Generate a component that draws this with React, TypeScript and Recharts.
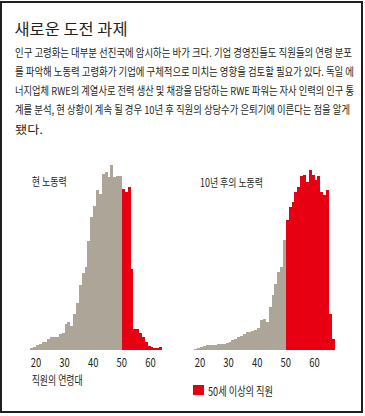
import { Bar, BarChart, Cell, XAxis, YAxis } from "recharts"

// ages 18..66, one bar per year of age
const ages = [
  18, 19, 20, 21, 22, 23, 24, 25, 26, 27, 28, 29, 30, 31, 32, 33, 34, 35, 36, 37, 38, 39, 40, 41, 42,
  43, 44, 45, 46, 47, 48, 49, 50, 51, 52, 53, 54, 55, 56, 57, 58, 59, 60, 61, 62, 63, 64, 65, 66,
]
const tickAges = [20, 30, 40, 50, 60]
const seniorAge = 50

// relative head count per age
const currentWorkforce = [
  4, 8, 13, 18, 22, 24, 33, 37, 37, 38, 47, 50, 77, 84, 72, 107, 140, 194, 229, 247, 327, 397, 432,
  479, 467, 527, 534, 517, 553, 517, 522, 522, 482, 472, 487, 242, 62, 62, 50, 37, 22, 12, 7, 5, 5, 9,
]
const workforceIn10Years = [
  3, 5, 8, 11, 13, 13, 14, 15, 17, 18, 18, 20, 24, 30, 33, 37, 42, 48, 52, 53, 55, 60, 66, 88, 92, 83,
  128, 163, 198, 233, 248, 328, 390, 428, 443, 473, 488, 520, 523, 503, 540, 523, 508, 520, 473, 463,
  478, 108, 31,
]

const bodyLines = [
  "인구 고령화는 대부분 선진국에 암시하는 바가 크다. 기업 경영진들도 직원들의 연령 분포",
  "를 파악해 노동력 고령화가 기업에 구체적으로 미치는 영향을 검토할 필요가 있다. 독일 에",
  "너지업체 RWE의 계열사로 전력 생산 및 채광을 담당하는 RWE 파워는 자사 인력의 인구 통",
  "계를 분석, 현 상황이 계속 될 경우 10년 후 직원의 상당수가 은퇴기에 이른다는 점을 알게",
  "됐다.",
]
const bodyWidths = [337, 339, 339, 335, 28]

const GRAY = "#ada598"
const RED = "#e60012"
const INK = "#231f20"
const FONT = "'Noto Sans CJK KR', 'Noto Sans', sans-serif"
const BAND = 2.86

function AgeTick(props: any) {
  const { x, payload } = props
  if (!tickAges.includes(Number(payload.value))) return null
  return (
    <text
      x={x - BAND / 2}
      y={226.5}
      textAnchor="middle"
      fontSize={12.5}
      fill={INK}
      fontFamily={FONT}
      textLength={10.5}
      lengthAdjust="spacingAndGlyphs"
    >
      {payload.value}
    </text>
  )
}

function AgeHistogram({ counts, left, plotLeft }: { counts: number[]; left: number; plotLeft: number }) {
  const data = counts.map((count, i) => ({ age: ages[i], count }))
  const plotWidth = counts.length * BAND
  return (
    <div style={{ position: "absolute", left, top: 140, shapeRendering: "crispEdges" }}>
      <BarChart
        width={180}
        height={240}
        data={data}
        barCategoryGap={0}
        barGap={0}
        margin={{ top: 9.5, left: plotLeft, right: 180 - plotLeft - plotWidth, bottom: 0 }}
      >
        <XAxis
          dataKey="age"
          interval={0}
          ticks={tickAges}
          axisLine={false}
          tickLine={false}
          height={30.5}
          tick={<AgeTick />}
        />
        <YAxis hide domain={[0, 600]} />
        <Bar dataKey="count" isAnimationActive={false}>
          {data.map((d) => (
            <Cell key={d.age} fill={d.age >= seniorAge ? RED : GRAY} />
          ))}
        </Bar>
      </BarChart>
    </div>
  )
}

function Label({ x, y, size, width, children }: any) {
  return (
    <text
      x={x}
      y={y}
      fontSize={size}
      fill={INK}
      fontFamily={FONT}
      textLength={width}
      lengthAdjust="spacingAndGlyphs"
    >
      {children}
    </text>
  )
}

export default function App() {
  return (
    <div
      style={{
        position: "absolute",
        left: 0,
        top: 0,
        width: 365,
        height: 416,
        background: "#fff",
        overflow: "hidden",
      }}
    >
      <div
        style={{
          position: "absolute",
          left: 0,
          top: 1,
          width: 363,
          height: 412,
          border: `2px solid ${INK}`,
          boxSizing: "border-box",
        }}
      />
      <AgeHistogram counts={currentWorkforce} left={0} plotLeft={30.28} />
      <AgeHistogram counts={workforceIn10Years} left={180} plotLeft={14.28} />
      <svg
        width={365}
        height={416}
        style={{ position: "absolute", left: 0, top: 0, pointerEvents: "none" }}
      >
        <Label x={14.5} y={34.5} size={16} width={113}>
          새로운 도전 과제
        </Label>
        {bodyLines.map((line, i) => (
          <Label key={i} x={15} y={56.7 + i * 19.2} size={11} width={bodyWidths[i]}>
            {line}
          </Label>
        ))}
        <Label x={31.7} y={186} size={11.5} width={35}>
          현 노동력
        </Label>
        <Label x={200} y={186.5} size={11.5} width={63}>
          10년 후의 노동력
        </Label>
        <Label x={31.7} y={384.5} size={12} width={51}>
          직원의 연령대
        </Label>
        <rect x={193} y={385} width={11} height={10} fill={RED} />
        <Label x={208} y={396} size={12} width={65}>
          50세 이상의 직원
        </Label>
      </svg>
    </div>
  )
}
